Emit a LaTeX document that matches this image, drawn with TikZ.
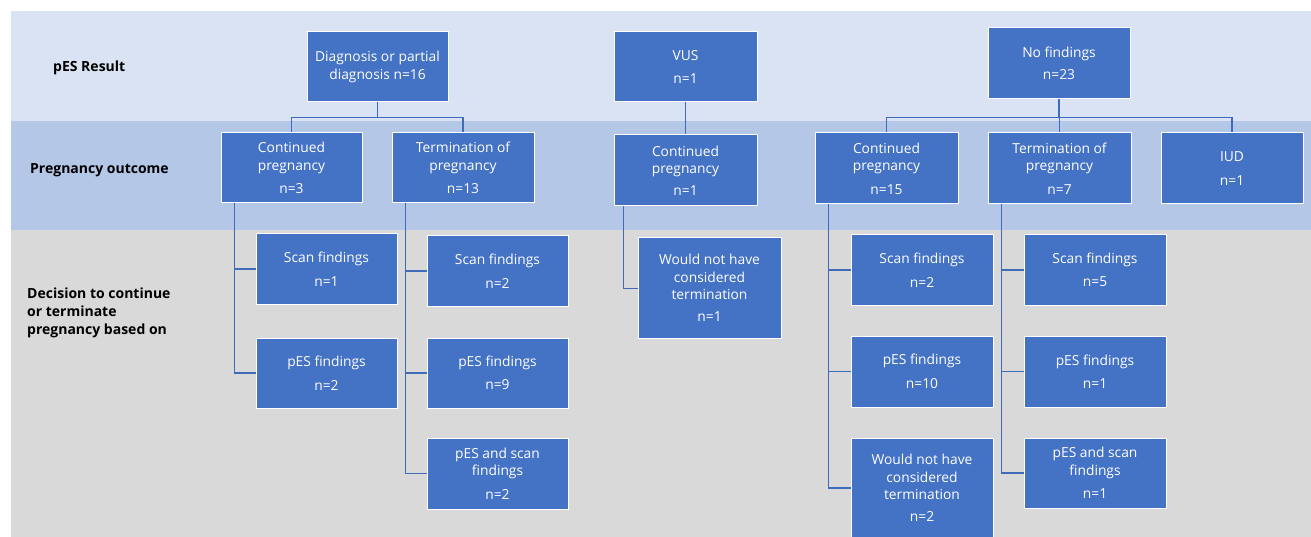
\documentclass[tikz,border=0pt]{standalone}
\usepackage{fontspec}
\setmainfont{Open Sans}
\definecolor{bandA}{HTML}{DAE3F3}
\definecolor{bandB}{HTML}{B4C7E7}
\definecolor{bandC}{HTML}{D9D9D9}
\definecolor{boxblue}{HTML}{4472C4}
\definecolor{lineblue}{HTML}{3F6BBA}
\begin{document}
\begin{tikzpicture}[x=1pt,y=-1pt,
  box/.style={draw=white,line width=1pt,fill=boxblue,text=white,align=center,
    inner sep=0pt,minimum width=141pt,minimum height=70pt,
    font=\fontsize{13.8}{17.5}\selectfont},
  lbl/.style={anchor=west,align=left,inner sep=0pt,text=black,font=\fontsize{14}{18}\selectfont\bfseries},
  conn/.style={draw=lineblue,line width=1.4pt}]
\useasboundingbox (0,0) rectangle (1311,537);
\fill[white] (0,0) rectangle (1311,537);
\fill[bandA] (11,11) rectangle (1311,121);
\fill[bandB] (11,121) rectangle (1311,230);
\fill[bandC] (11,230) rectangle (1311,537);

% left labels
\node[lbl] (l1) at (53,68) {pES Result};
\node[lbl] (l2) at (30,170) {Pregnancy outcome};
\node[lbl] (l3) at (27,313) {Decision to continue\\or terminate\\pregnancy based on};

% row 1
\node[box] (diag) at (377.5,67) {Diagnosis or partial\\diagnosis n=16};
\node[box,minimum width=143pt] (vus) at (685.5,67) {VUS\\[5pt]n=1};
\node[box,minimum width=142pt,minimum height=71pt] (nof) at (1059,63.5) {No findings\\[5pt]n=23};

% row 2
\node[box] (c1) at (291.5,168) {Continued\\pregnancy\\[6pt]n=3};
\node[box,minimum width=142pt] (t1) at (463,168) {Termination of\\pregnancy\\[6pt]n=13};
\node[box,minimum width=143pt,minimum height=71pt] (vc) at (685.5,170.5) {Continued\\pregnancy\\[4pt]n=1};
\node[box,minimum width=143pt,minimum height=71pt] (c2) at (886.5,168.5) {Continued\\pregnancy\\[6pt]n=15};
\node[box,minimum width=143pt,minimum height=71pt] (t2) at (1059.5,168.5) {Termination of\\pregnancy\\[6pt]n=7};
\node[box,minimum width=142pt,minimum height=71pt] (iud) at (1232,168.5) {IUD\\[6pt]n=1};

% row 3
\node[box] (s1) at (326.5,269) {Scan findings\\[6pt]n=1};
\node[box] (p1) at (326.5,373) {pES findings\\[6pt]n=2};
\node[box] (s2) at (497.5,271) {Scan findings\\[6pt]n=2};
\node[box] (p2) at (497.5,373) {pES findings\\[6pt]n=9};
\node[box,minimum height=71pt] (ps1) at (497.5,473.5) {pES and scan\\findings\\[6pt]n=2};
\node[box,minimum width=143pt,minimum height=100pt] (w1) at (709.5,288) {Would not have\\considered\\termination\\[4pt]n=1};
\node[box,minimum width=142pt] (s3) at (922,270) {Scan findings\\[6pt]n=2};
\node[box,minimum width=142pt,minimum height=71pt] (p3) at (922,371.5) {pES findings\\[6pt]n=10};
\begin{scope}
\clip (0,0) rectangle (1311,537);
\node[box,minimum width=142pt,minimum height=100pt] (w2) at (922,488) {Would not have\\considered\\termination\\[4pt]n=2};
\end{scope}
\node[box,minimum width=142pt] (s4) at (1095,270) {Scan findings\\[6pt]n=5};
\node[box,minimum width=142pt,minimum height=71pt] (p4) at (1095,371.5) {pES findings\\[6pt]n=1};
\node[box,minimum width=142pt,minimum height=70pt] (ps2) at (1095,473) {pES and scan\\findings\\[6pt]n=1};

% connectors row1 -> row2
\draw[conn] (diag.south) -- ++(0,15) -| (c1.north);
\draw[conn] (diag.south) -- ++(0,15) -| (t1.north);
\draw[conn,line width=1pt] (vus.south) -- (vc.north);
\draw[conn] (nof.south) -- ++(0,18) -| (c2.north);
\draw[conn] (nof.south) -- ++(0,18) -| (t2.north);
\draw[conn] (nof.south) -- ++(0,18) -| (iud.north);

% connectors row2 -> row3
\draw[conn] ([xshift=14pt]c1.south west) |- (s1.west);
\draw[conn] ([xshift=14pt]c1.south west) |- (p1.west);
\draw[conn] ([xshift=14pt]t1.south west) |- (s2.west);
\draw[conn] ([xshift=14pt]t1.south west) |- (p2.west);
\draw[conn] ([xshift=14pt]t1.south west) |- (ps1.west);
\draw[conn,line width=1pt] ([xshift=10pt]vc.south west) |- (w1.west);
\draw[conn] ([xshift=14pt]c2.south west) |- (s3.west);
\draw[conn] ([xshift=14pt]c2.south west) |- (p3.west);
\draw[conn] ([xshift=14pt]c2.south west) |- (w2.west);
\draw[conn] ([xshift=14pt]t2.south west) |- (s4.west);
\draw[conn] ([xshift=14pt]t2.south west) |- (p4.west);
\draw[conn] ([xshift=14pt]t2.south west) |- (ps2.west);
\end{tikzpicture}
\end{document}
